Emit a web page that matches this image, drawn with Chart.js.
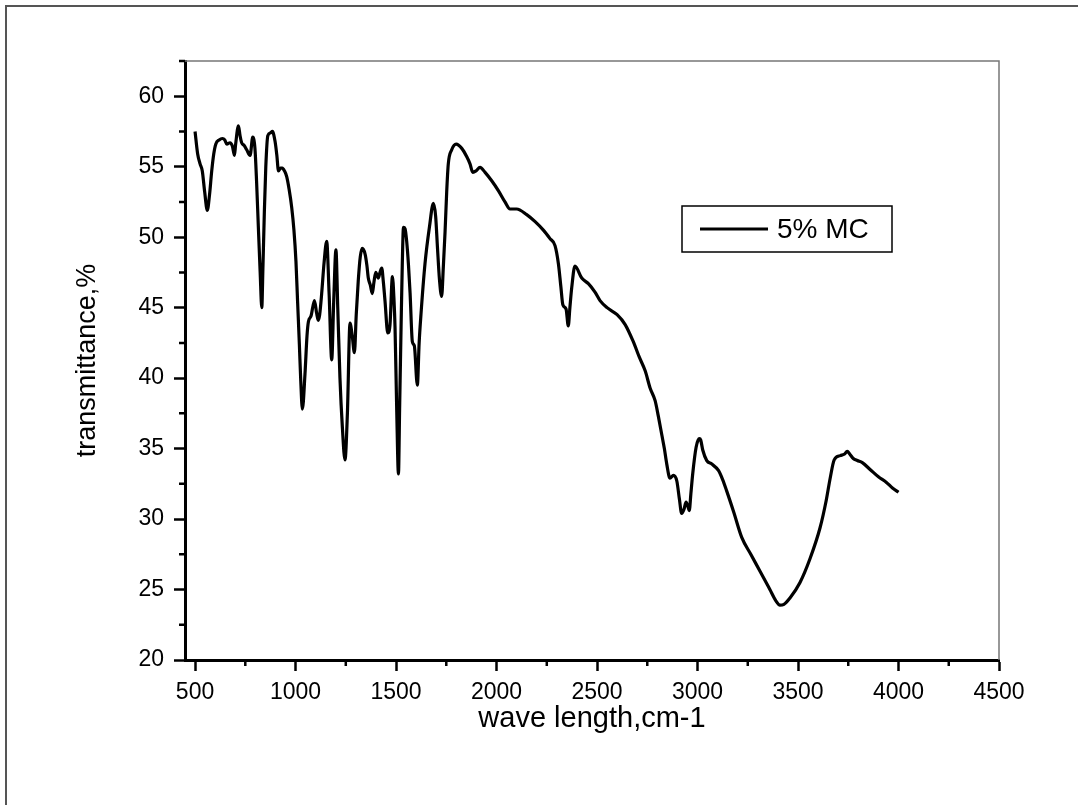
<!DOCTYPE html>
<html>
<head>
<meta charset="utf-8">
<script src="https://cdn.jsdelivr.net/npm/chart.js@4.4.1/dist/chart.umd.min.js"></script>
<style>
    html, body { margin: 0; padding: 0; background: #fff; }
    #wrap { position: relative; width: 1078px; height: 805px; }
</style>
</head>
<body>
<div id="wrap"><canvas id="ChartIR"></canvas></div>
<script>
(function () {
    "use strict";

    // Data
    const waveNumber = [
        500, 513, 525, 536, 548, 561, 572, 583, 593, 603, 620, 636, 648, 658, 674, 686, 696, 702, 716, 724,
        732, 745, 757, 774, 787, 798, 806, 815, 824, 832, 838, 845, 852, 862, 875, 885, 898, 907, 915, 925,
        934, 945, 956, 968, 981, 992, 1002, 1010, 1019, 1026, 1034, 1047, 1057, 1064, 1077, 1094, 1105, 1113, 1120, 1130,
        1142, 1155, 1167, 1180, 1190, 1201, 1210, 1221, 1233, 1246, 1258, 1271, 1282, 1293, 1302, 1312, 1322, 1332, 1346, 1355,
        1362, 1372, 1382, 1390, 1399, 1412, 1420, 1429, 1437, 1445, 1459, 1470, 1482, 1490, 1495, 1503, 1512, 1518, 1525, 1531,
        1537, 1545, 1553, 1562, 1570, 1581, 1591, 1606, 1615, 1624, 1644, 1666, 1686, 1697, 1706, 1716, 1727, 1735, 1744, 1752,
        1760, 1777, 1799, 1827, 1852, 1868, 1882, 1898, 1918, 1943, 1976, 2009, 2042, 2067, 2100, 2150, 2192, 2233, 2266, 2291,
        2308, 2320, 2330, 2346, 2357, 2365, 2374, 2390, 2424, 2457, 2490, 2515, 2550, 2600, 2640, 2680, 2710, 2740, 2764, 2789,
        2805, 2822, 2835, 2847, 2863, 2880, 2897, 2910, 2921, 2933, 2943, 2952, 2959, 2967, 2976, 2993, 3009, 3016, 3026, 3046,
        3071, 3104, 3125, 3145, 3180, 3220, 3265, 3311, 3360, 3390, 3410, 3430, 3460, 3510, 3560, 3610, 3640, 3660, 3680, 3710,
        3730, 3745, 3758, 3775, 3795, 3820, 3860, 3900, 3940, 3970, 4000
    ];
    const transmittance = [
        57.5, 55.9, 55.2, 54.7, 53.2, 51.9, 53.0, 54.7, 55.9, 56.6, 56.9, 57.0, 56.9, 56.6, 56.7, 56.45, 55.8, 56.6, 57.9, 57.2,
        56.7, 56.5, 56.2, 55.8, 57.1, 56.3, 54.0, 50.7, 47.5, 45.0, 48.0, 51.9, 55.0, 57.2, 57.4, 57.5, 56.8, 55.8, 54.7, 54.9,
        54.9, 54.7, 54.3, 53.4, 52.1, 50.5, 48.3, 45.5, 42.4, 39.8, 37.8, 40.3, 43.0, 44.0, 44.4, 45.5, 44.6, 44.1, 44.5, 46.0,
        48.2, 49.7, 46.0, 41.3, 45.5, 49.1, 45.0, 40.0, 36.5, 34.2, 37.5, 43.9, 43.0, 41.8, 44.5, 46.9, 48.6, 49.2, 48.8, 48.0,
        47.1, 46.6, 46.0, 46.8, 47.5, 47.1, 47.5, 47.8, 46.8, 45.5, 43.2, 43.8, 47.2, 45.5, 43.6, 38.0, 33.2, 38.0, 43.6, 48.0,
        50.7, 50.6, 49.7, 48.0, 46.0, 42.6, 42.3, 39.5, 42.5, 44.5, 48.1, 50.7, 52.4, 51.5, 49.3, 47.0, 45.8, 47.8, 50.4, 53.2,
        55.2, 56.2, 56.6, 56.3, 55.7, 55.2, 54.6, 54.7, 54.95, 54.6, 54.0, 53.3, 52.5, 52.0, 52.0, 51.6, 51.1, 50.5, 49.9, 49.4,
        48.1, 46.5, 45.2, 44.9, 43.7, 45.0, 46.4, 47.95, 47.1, 46.7, 46.1, 45.5, 45.0, 44.5, 43.8, 42.6, 41.5, 40.5, 39.3, 38.4,
        37.3, 36.0, 35.0, 33.9, 32.9, 33.1, 32.7, 31.4, 30.4, 30.7, 31.2, 30.9, 30.6, 31.8, 33.2, 35.1, 35.7, 35.6, 34.9, 34.15,
        33.9, 33.45, 32.8, 32.0, 30.5, 28.7, 27.5, 26.3, 25.0, 24.2, 23.9, 23.95, 24.4, 25.5, 27.2, 29.4, 31.3, 32.9, 34.2, 34.5,
        34.6, 34.8, 34.6, 34.3, 34.15, 34.0, 33.5, 33.0, 32.6, 32.2, 31.9
    ];
    const seriesLabel = '5% MC';

    // Tick labels
    const xTicks = [500, 1000, 1500, 2000, 2500, 3000, 3500, 4000, 4500];
    const xMinorTicks = [750, 1250, 1750, 2250, 2750, 3250, 3750, 4250];
    const yTicks = [20, 25, 30, 35, 40, 45, 50, 55, 60];
    const yMinorTicks = [22.5, 27.5, 32.5, 37.5, 42.5, 47.5, 52.5, 57.5, 62.5];

    const fontFamily = '"Liberation Sans", Arial, sans-serif';

    // page frame + white background
    const framePlugin = {
        id: 'frame',
        beforeDraw(chart) {
            const ctx = chart.ctx;
            ctx.save();
            ctx.fillStyle = '#fff';
            ctx.fillRect(0, 0, chart.width, chart.height);
            ctx.strokeStyle = '#555';
            ctx.lineWidth = 2;
            ctx.beginPath();
            ctx.moveTo(6, chart.height);
            ctx.lineTo(6, 6);
            ctx.lineTo(chart.width, 6);
            ctx.stroke();
            ctx.restore();
        }
    };

    // box top/right, minor ticks, legend
    const decorPlugin = {
        id: 'decor',
        afterDraw(chart) {
            const ctx = chart.ctx;
            const a = chart.chartArea;
            const xs = chart.scales.x;
            const ys = chart.scales.y;
            ctx.save();

            ctx.strokeStyle = '#777';
            ctx.lineWidth = 1.5;
            ctx.beginPath();
            ctx.moveTo(a.left, a.top);
            ctx.lineTo(a.right, a.top);
            ctx.lineTo(a.right, a.bottom);
            ctx.stroke();

            ctx.strokeStyle = '#000';
            ctx.lineWidth = 2.5;
            ctx.beginPath();
            xMinorTicks.forEach(v => {
                const px = xs.getPixelForValue(v);
                ctx.moveTo(px, a.bottom);
                ctx.lineTo(px, a.bottom + 6);
            });
            yMinorTicks.forEach(v => {
                const py = ys.getPixelForValue(v);
                ctx.moveTo(a.left, py);
                ctx.lineTo(a.left - 6, py);
            });
            ctx.stroke();

            // legend
            const lx = a.left + 497, ly = a.top + 145, lw = 210, lh = 46;
            ctx.lineWidth = 1.5;
            ctx.strokeRect(lx, ly, lw, lh);
            ctx.lineWidth = 3;
            ctx.beginPath();
            ctx.moveTo(lx + 18, ly + lh / 2);
            ctx.lineTo(lx + 86, ly + lh / 2);
            ctx.stroke();
            ctx.fillStyle = '#000';
            ctx.font = '28px ' + fontFamily;
            ctx.textBaseline = 'middle';
            ctx.fillText(chart.data.datasets[0].label, lx + 95, ly + lh / 2 + 1);
            ctx.restore();
        }
    };

    const ctb = document.getElementById('ChartIR').getContext('2d');
    const IRChart = new Chart(ctb, {
        type: 'line',
        data: {
            datasets: [{
                label: seriesLabel,
                data: waveNumber.map((w, i) => ({ x: w, y: transmittance[i] })),
                borderColor: '#000',
                borderWidth: 3.2,
                pointRadius: 0,
                fill: false,
                cubicInterpolationMode: 'monotone'
            }]
        },
        options: {
            responsive: true,
            maintainAspectRatio: false,
            animation: false,
            layout: {
                padding: { top: 61, right: 79, left: 0, bottom: 0 }
            },
            scales: {
                x: {
                    type: 'linear',
                    min: 450,
                    max: 4500,
                    afterBuildTicks: (scale) => { scale.ticks = xTicks.map(v => ({ value: v })); },
                    afterFit: (scale) => { scale.height = 145; },
                    grid: {
                        drawOnChartArea: false,
                        tickLength: 11,
                        tickWidth: 2.5,
                        tickColor: '#000'
                    },
                    border: { color: '#000', width: 3 },
                    ticks: {
                        color: '#000',
                        padding: 8,
                        maxRotation: 0,
                        font: { family: fontFamily, size: 23 },
                        callback: (value) => String(value)
                    },
                    title: {
                        display: true,
                        text: 'wave length,cm-1',
                        color: '#000',
                        font: { family: fontFamily, size: 29 },
                        padding: { top: 0, bottom: 69 }
                    }
                },
                y: {
                    min: 20,
                    max: 62.5,
                    afterBuildTicks: (scale) => { scale.ticks = yTicks.map(v => ({ value: v })); },
                    afterFit: (scale) => { scale.width = 185; },
                    grid: {
                        drawOnChartArea: false,
                        tickLength: 11,
                        tickWidth: 2.5,
                        tickColor: '#000'
                    },
                    border: { color: '#000', width: 3 },
                    ticks: {
                        color: '#000',
                        padding: 10,
                        font: { family: fontFamily, size: 23 },
                        callback: (value) => String(value)
                    },
                    title: {
                        display: true,
                        text: 'transmittance,%',
                        color: '#000',
                        font: { family: fontFamily, size: 27 },
                        padding: { top: 71, bottom: 0 }
                    }
                }
            },
            plugins: {
                legend: { display: false },
                tooltip: { enabled: false }
            }
        },
        plugins: [framePlugin, decorPlugin]
    });
})();
</script>
</body>
</html>
